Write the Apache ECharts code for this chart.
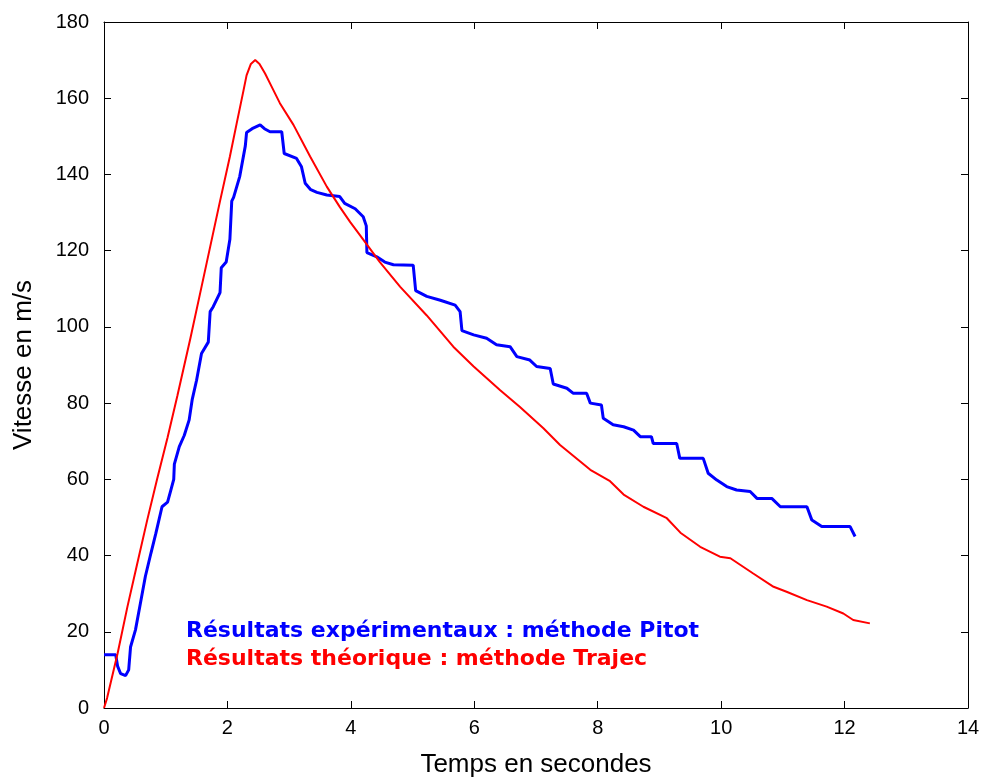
<!DOCTYPE html>
<html>
<head>
<meta charset="utf-8">
<script src="https://cdn.jsdelivr.net/npm/echarts@6/dist/echarts.min.js"></script>
<style>html,body{margin:0;padding:0;background:#fff}#c{width:987px;height:778px}</style>
</head>
<body>
<div id="c"></div>
<script>
const xTicks = [0, 2, 4, 6, 8, 10, 12, 14];
const yTicks = [0, 20, 40, 60, 80, 100, 120, 140, 160, 180];
const xLabel = "Temps en secondes";
const yLabel = "Vitesse en m/s";
const pitotName = "Résultats expérimentaux : méthode Pitot";
const trajecName = "Résultats théorique : méthode Trajec";

const pitotT = [0,0.19,0.22,0.27,0.35,0.4,0.43,0.51,0.59,0.67,0.76,0.84,0.94,1.03,1.08,1.13,1.14,1.22,1.3,1.38,1.43,1.5,1.58,1.69,1.72,1.77,1.88,1.9,1.98,2.04,2.07,2.1,2.2,2.29,2.31,2.4,2.53,2.6,2.69,2.88,2.92,3.12,3.2,3.26,3.35,3.45,3.61,3.82,3.9,4.07,4.2,4.25,4.26,4.42,4.55,4.69,5.01,5.05,5.23,5.45,5.69,5.77,5.8,5.99,6.2,6.36,6.58,6.69,6.9,7.01,7.23,7.28,7.5,7.6,7.82,7.88,8.06,8.09,8.25,8.42,8.58,8.69,8.87,8.9,9.28,9.33,9.71,9.79,9.93,10.09,10.25,10.47,10.58,10.82,10.96,11.39,11.47,11.63,12.09,12.17];
const pitotV = [14,14,11,9,8.5,10,16,20.5,27.5,34.5,40.6,45.8,52.8,54,57,60,64,68.6,71.5,75.6,81,86,93,96,104,105.3,109,115.5,117,123,133,134,139.5,147.5,151,152,153,152,151.2,151.2,145.5,144.2,142,137.7,136,135.3,134.6,134.2,132.4,131,128.9,126.5,119.5,118.4,117,116.3,116.2,109.5,108,107,105.7,104,99,97.9,97,95.3,94.8,92.2,91.3,89.6,89.1,85,83.9,82.6,82.6,80,79.5,76,74.3,73.8,72.9,71.2,71.2,69.4,69.4,65.5,65.5,61.6,59.8,58.1,57.2,56.8,55,55,52.8,52.8,49.3,47.6,47.6,45];

const trajecT = [0,0.05,0.22,0.38,0.54,0.7,0.86,1.03,1.19,1.4,1.56,1.72,1.88,2.04,2.15,2.26,2.31,2.38,2.45,2.52,2.61,2.69,2.85,3.07,3.34,3.61,3.82,3.99,4.15,4.47,4.8,5.23,5.66,5.99,6.42,6.74,7.12,7.39,7.88,8.2,8.42,8.74,9.12,9.34,9.66,9.98,10.15,10.52,10.85,11.06,11.39,11.71,11.98,12.14,12.41];
const trajecV = [0,2.6,14.3,26.6,38,49.3,60,71,82,97,109,121,133,144.7,153.4,162,166,169,170,169,166.5,163.9,158.7,153,144.7,136.8,131.5,127.5,124,117,110.5,103,94.8,89.6,83.4,79,73.4,69,62.5,59.5,56,52.8,49.8,46,42.3,39.7,39.3,35.3,31.8,30.5,28.3,26.6,24.8,23.1,22.2];

const zip = (a, b) => a.map((v, i) => [v, b[i]]);
const FONT = "'Liberation Sans', Arial, sans-serif";
const LEGFONT = "'DejaVu Sans', Verdana, sans-serif";

const chart = echarts.init(document.getElementById('c'), null, {renderer: 'canvas'});
const axisCommon = {
  axisLine: {show: true, onZero: false, lineStyle: {color: '#000', width: 1}},
  axisTick: {show: true, inside: true, length: 7, lineStyle: {color: '#000'}},
  splitLine: {show: false}
};
chart.setOption({
  animation: false,
  backgroundColor: '#fff',
  grid: {left: 104, right: 19, top: 22, bottom: 70, containLabel: false, outerBoundsMode: 'none'},
  xAxis: [
    Object.assign({type: 'value', min: xTicks[0], max: xTicks[xTicks.length-1], interval: 2, position: 'bottom',
      name: xLabel, nameLocation: 'middle', nameGap: 44,
      nameTextStyle: {fontFamily: FONT, fontSize: 26, color: '#000'},
      axisLabel: {fontFamily: FONT, fontSize: 20, color: '#000', margin: 10}}, axisCommon),
    Object.assign({type: 'value', min: xTicks[0], max: xTicks[xTicks.length-1], interval: 2, position: 'top',
      axisLabel: {show: false}}, axisCommon)
  ],
  yAxis: [
    Object.assign({type: 'value', min: yTicks[0], max: yTicks[yTicks.length-1], interval: 20, position: 'left',
      name: yLabel, nameLocation: 'middle', nameGap: 67,
      nameTextStyle: {fontFamily: FONT, fontSize: 26, color: '#000'},
      axisLabel: {fontFamily: FONT, fontSize: 20, color: '#000', margin: 15}}, axisCommon),
    Object.assign({type: 'value', min: yTicks[0], max: yTicks[yTicks.length-1], interval: 20, position: 'right',
      axisLabel: {show: false}}, axisCommon)
  ],
  series: [
    {name: pitotName, type: 'line', data: zip(pitotT, pitotV), showSymbol: false, symbol: 'none',
      lineStyle: {color: '#0000ff', width: 3}, z: 3},
    {name: trajecName, type: 'line', data: zip(trajecT, trajecV), showSymbol: false, symbol: 'none',
      lineStyle: {color: '#ff0000', width: 2}, z: 4}
  ],
  graphic: [
    {type: 'text', left: 186, top: 620, style: {text: pitotName, fill: '#0000ff', font: 'bold 22px ' + LEGFONT}},
    {type: 'text', left: 186, top: 648, style: {text: trajecName, fill: '#ff0000', font: 'bold 22px ' + LEGFONT}}
  ]
});
</script>
</body>
</html>
